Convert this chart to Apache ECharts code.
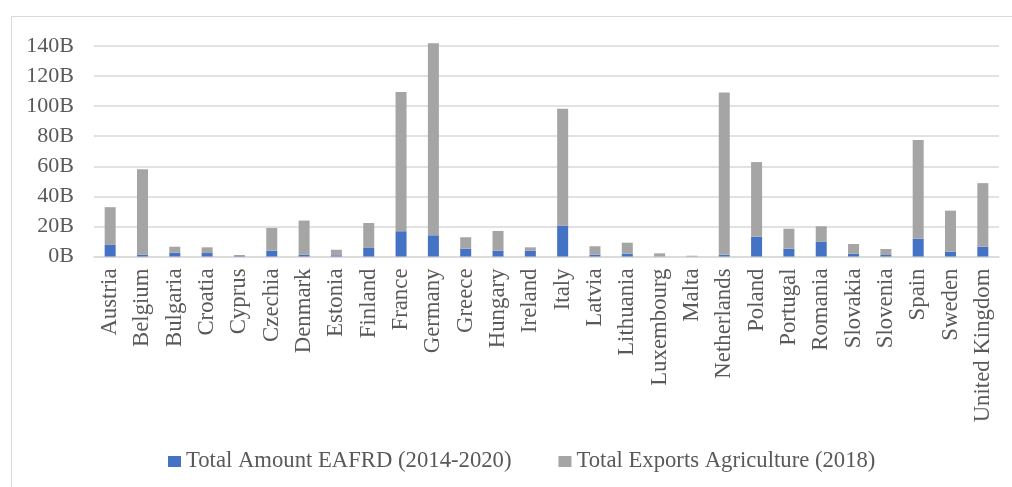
<!DOCTYPE html>
<html>
<head>
<meta charset="utf-8">
<script src="https://cdn.jsdelivr.net/npm/echarts@6/dist/echarts.min.js"></script>
<style>
  html, body { margin: 0; padding: 0; background: #fff; }
  #main { width: 1012px; height: 487px; }
</style>
</head>
<body>
<div id="main"></div>
<script>
// values in billions
var countries = ["Austria", "Belgium", "Bulgaria", "Croatia", "Cyprus", "Czechia", "Denmark", "Estonia",
    "Finland", "France", "Germany", "Greece", "Hungary", "Ireland", "Italy", "Latvia", "Lithuania",
    "Luxembourg", "Malta", "Netherlands", "Poland", "Portugal", "Romania", "Slovakia", "Slovenia",
    "Spain", "Sweden", "United Kingdom"];
var eafrd = [7.7, 1.2, 2.5, 2.3, 0.3, 3.9, 1.1, 0.8, 5.7, 16.8, 14.1, 5.2, 3.9, 3.8, 20.5, 1.2, 1.9,
    0.1, 0.1, 1.1, 13.2, 5.2, 9.7, 1.9, 1.0, 11.9, 3.2, 6.5];
var exportsAgri = [25.1, 56.9, 4.0, 3.8, 0.7, 15.1, 22.8, 3.7, 16.6, 92.6, 127.8, 7.6, 13.1, 2.3, 77.8,
    5.6, 7.3, 2.0, 0.4, 107.9, 49.6, 13.3, 10.4, 6.4, 4.0, 65.6, 27.3, 42.3];
var seriesNames = ["Total Amount EAFRD (2014-2020)", "Total Exports Agriculture (2018)"];

var chartDom = document.getElementById("main");
var myChart = echarts.init(chartDom);
var font = "'Liberation Serif', 'Times New Roman', serif";
var textColor = "#595959";

var option = {
    animation: false,
    backgroundColor: "#fff",
    textStyle: { fontFamily: font },
    graphic: [
        {
            type: "rect",
            left: 9,
            top: 14,
            shape: { width: 1020, height: 490 },
            style: { fill: "none", stroke: "#d9d9d9", lineWidth: 1 },
            silent: true,
        },
    ],
    grid: {
        left: 94,
        right: 13,
        top: 46,
        bottom: 230.5,
        containLabel: false,
    },
    legend: {
        left: 168,
        top: 450,
        padding: 0,
        itemWidth: 13,
        itemHeight: 11,
        itemGap: 47,
        icon: "rect",
        textStyle: { fontFamily: font, fontSize: 22.7, color: textColor },
        data: seriesNames,
    },
    xAxis: {
        type: "category",
        data: countries,
        axisLine: { lineStyle: { color: "#d9d9d9", width: 1.5 } },
        axisTick: { show: false },
        axisLabel: {
            interval: 0,
            rotate: 90,
            margin: 12,
            fontFamily: font,
            fontSize: 22.8,
            color: textColor,
        },
    },
    yAxis: {
        type: "value",
        min: 0,
        max: 140,
        interval: 20,
        axisLine: { show: false },
        axisTick: { show: false },
        splitLine: { lineStyle: { color: "#d9d9d9", width: 1.5 } },
        axisLabel: {
            margin: 20,
            fontFamily: font,
            fontSize: 22,
            color: textColor,
            formatter: function (v) {
                return v + "B";
            },
        },
    },
    series: [
        {
            name: seriesNames[0],
            type: "bar",
            stack: "total",
            barWidth: 11,
            clip: false,
            itemStyle: { color: "#4472C4" },
            data: eafrd,
        },
        {
            name: seriesNames[1],
            type: "bar",
            stack: "total",
            barWidth: 11,
            clip: false,
            itemStyle: { color: "#A5A5A5" },
            data: exportsAgri,
        },
    ],
};

option && myChart.setOption(option);
</script>
</body>
</html>
